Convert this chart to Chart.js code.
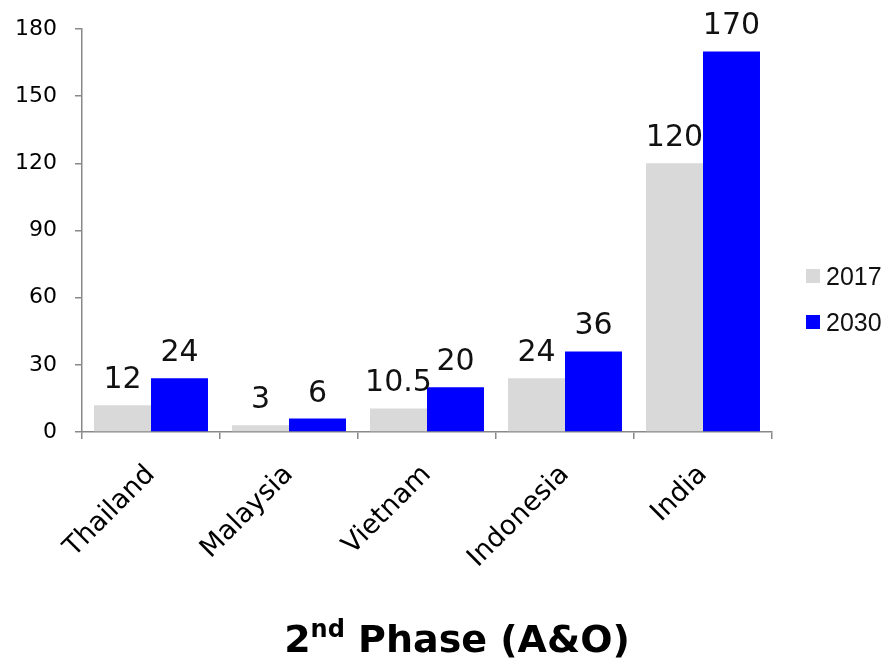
<!DOCTYPE html>
<html>
<head>
<meta charset="utf-8">
<script src="https://cdn.jsdelivr.net/npm/chart.js@4/dist/chart.umd.min.js"></script>
<style>
  html, body { margin: 0; padding: 0; background: #fff; }
  #wrap { position: relative; width: 884px; height: 665px; }
  #legend { position: absolute; left: 806px; top: 262px; font-family: "Liberation Sans", Arial, sans-serif; font-size: 25px; color: #111; }
  #legend div { display: flex; align-items: center; height: 28px; margin-bottom: 18px; }
  #legend span.box { display: inline-block; width: 14px; height: 14px; margin-right: 6px; }
  #title { position: absolute; left: 0; width: 914px; top: 617px; text-align: center; font-family: "DejaVu Sans", sans-serif; font-weight: bold; font-size: 38px; color: #000; }
  #title sup { font-size: 24px; vertical-align: 15px; line-height: 0; }
</style>
</head>
<body>
<div id="wrap">
  <canvas id="c" width="884" height="665"></canvas>
  <div id="legend"></div>
  <div id="title">2<sup>nd</sup> Phase (A&amp;O)</div>
</div>
<script>
const categories = ["Thailand", "Malaysia", "Vietnam", "Indonesia", "India"];
const values2017 = [12, 3, 10.5, 24, 120];
const values2030 = [24, 6, 20, 36, 170];
const seriesNames = ["2017", "2030"];
const seriesColors = ["#d9d9d9", "#0000ff"];
const yTicks = [0, 30, 60, 90, 120, 150, 180];

// Writes each bar's value just above it
const valueLabels = {
  id: "valueLabels",
  afterDatasetsDraw(chart) {
    const ctx = chart.ctx;
    ctx.save();
    ctx.font = "30px 'DejaVu Sans'";
    ctx.fillStyle = "#111";
    ctx.textAlign = "center";
    ctx.textBaseline = "alphabetic";
    chart.data.datasets.forEach((ds, i) => {
      chart.getDatasetMeta(i).data.forEach((bar, j) => {
        ctx.fillText(String(ds.data[j]), bar.x, bar.y - 17);
      });
    });
    ctx.restore();
  }
};

const chart = new Chart(document.getElementById("c"), {
  type: "bar",
  data: {
    labels: categories,
    datasets: [
      { label: seriesNames[0], data: values2017, backgroundColor: seriesColors[0] },
      { label: seriesNames[1], data: values2030, backgroundColor: seriesColors[1] }
    ]
  },
  options: {
    responsive: false,
    animation: false,
    layout: { padding: { top: 29, right: 112, left: 0, bottom: 0 } },
    datasets: { bar: { categoryPercentage: 0.826, barPercentage: 1.0, borderWidth: 0 } },
    plugins: { legend: { display: false }, tooltip: { enabled: false } },
    scales: {
      x: {
        grid: { display: true, drawOnChartArea: false, offset: true, color: "#888", tickLength: 7, lineWidth: 1.5 },
        border: { display: true, color: "#888", width: 1.5 },
        ticks: { color: "#000", font: { family: "DejaVu Sans", size: 27 }, maxRotation: 45, minRotation: 45, padding: 20 },
        afterFit(scale) { scale.height = 233; }
      },
      y: {
        min: 0, max: 180,
        afterBuildTicks(scale) { scale.ticks = yTicks.map(v => ({ value: v })); },
        grid: { display: true, drawOnChartArea: false, color: "#888", tickLength: 7, lineWidth: 1.5 },
        border: { display: true, color: "#888", width: 1.5 },
        ticks: { color: "#000", font: { family: "DejaVu Sans", size: 22 }, padding: 18 },
        afterFit(scale) {
          scale.width = 82;
          // top edge of the plot comes from the layout padding alone
          scale.paddingTop = 0;
          scale.paddingBottom = 0;
        }
      }
    }
  },
  plugins: [valueLabels]
});

// Legend beside the plot
const legend = document.getElementById("legend");
seriesNames.forEach((name, i) => {
  const row = document.createElement("div");
  const box = document.createElement("span");
  box.className = "box";
  box.style.background = seriesColors[i];
  row.appendChild(box);
  row.appendChild(document.createTextNode(name));
  legend.appendChild(row);
});
</script>
</body>
</html>
